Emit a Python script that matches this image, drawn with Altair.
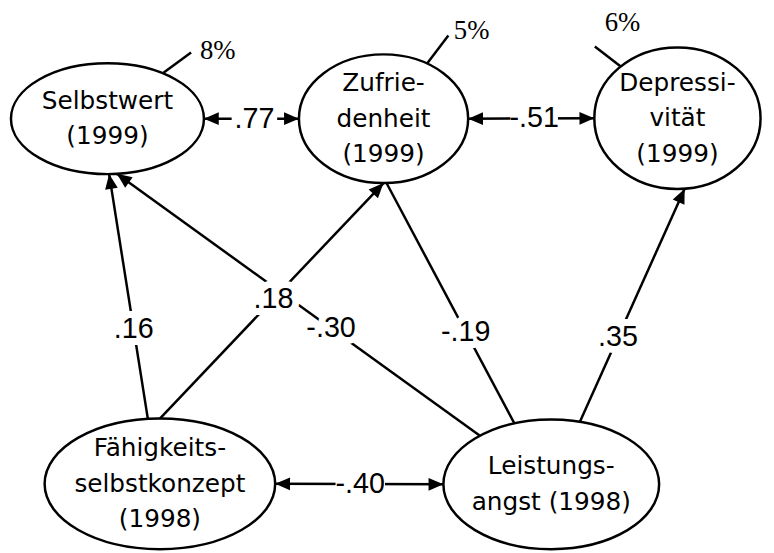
import altair as alt
import numpy as np
import pandas as pd

# ---------------- data ----------------
node_ids = ["SW", "ZF", "DP", "FS", "LA"]
node_labels = [
    ["Selbstwert", "(1999)"],
    ["Zufrie-", "denheit", "(1999)"],
    ["Depressi-", "vität", "(1999)"],
    ["Fähigkeits-", "selbstkonzept", "(1998)"],
    ["Leistungs-", "angst (1998)"],
]

explained_nodes = ["SW", "ZF", "DP"]
explained_text = ["8%", "5%", "6%"]

path_from = ["FS", "FS", "LA", "LA", "LA"]
path_to = ["SW", "ZF", "SW", "ZF", "DP"]
path_coef = [".16", ".18", "-.30", "-.19", ".35"]

corr_a = ["SW", "ZF", "FS"]
corr_b = ["ZF", "DP", "LA"]
corr_coef = [".77", "-.51", "-.40"]

# ---------------- layout (pixels) ----------------
node_cx = [108.5, 387.5, 684.5, 161.5, 557.0]
node_cy = [117.0, 117.0, 116.5, 486.0, 486.5]
node_rx = [97.5, 85.5, 84.0, 116.5, 109.0]
node_ry = [56.0, 65.0, 71.5, 66.0, 65.5]
LINE_H = 36

path_start_angle = [264, 270, 228.6, 250, 285.4]
path_end_angle = [89, 90, 84.4, 88, 85]
path_label_t = [0.367, 0.508, 0.41, 0.38, 0.364]
path_has_head = [True, True, True, False, True]

corr_label_shift = [3, 3, 1]
corr_box_half = [23, 24, 25]

pct_anchor_angle = [305, 301, 227]
pct_line_end = [(193, 50), (453, 33), (601, 44)]
pct_text_pos = [(220, 49), (476.5, 28), (629, 20)]

HEAD = "M 0 0 L 0.43 1 L -0.43 1 Z"
HEAD_SIZE = 900
BOX = "M -1 -0.5 L 1 -0.5 L 1 0.5 L -1 0.5 Z"


def anchor(node, ang):
    i = node_ids.index(node)
    a = np.deg2rad(ang)
    return node_cx[i] + node_rx[i] * np.cos(a), node_cy[i] + node_ry[i] * np.sin(a)


def head_angle(dx, dy):
    return float(np.degrees(np.arctan2(dx, -dy)) % 360)


def ellipse_path(rx, ry):
    k = ry / rx
    c = 0.5523
    ck = c * k
    return (f"M -1 0 C -1 {-ck} {-c} {-k} 0 {-k} C {c} {-k} 1 {-ck} 1 0 "
            f"C 1 {ck} {c} {k} 0 {k} C {-c} {k} -1 {ck} -1 0 Z")


rules, heads, diag_labels, horiz_labels = [], [], [], []

for f, t, coef, a0, a1, lt, hh in zip(path_from, path_to, path_coef, path_start_angle,
                                      path_end_angle, path_label_t, path_has_head):
    x0, y0 = anchor(f, a0)
    x1, y1 = anchor(t, a1)
    rules.append(dict(x=x0, y=y0, x2=x1, y2=y1))
    if hh:
        heads.append(dict(x=x1, y=y1, ang=head_angle(x1 - x0, y1 - y0)))
    diag_labels.append(dict(x=x0 + lt * (x1 - x0), y=y0 + lt * (y1 - y0), text=coef))

for a, b, coef, sh, bh in zip(corr_a, corr_b, corr_coef, corr_label_shift, corr_box_half):
    xa, ya = anchor(a, 0)
    xb, yb = anchor(b, 180)
    rules.append(dict(x=xa, y=ya, x2=xb, y2=yb))
    heads.append(dict(x=xa, y=ya, ang=head_angle(xa - xb, ya - yb)))
    heads.append(dict(x=xb, y=yb, ang=head_angle(xb - xa, yb - ya)))
    horiz_labels.append(dict(x=(xa + xb) / 2 + sh, y=(ya + yb) / 2, text=coef,
                             size=(2 * bh) ** 2))

pct_rules, pct_texts = [], []
for n, txt, ang, (ex, ey), (tx, ty) in zip(explained_nodes, explained_text, pct_anchor_angle,
                                            pct_line_end, pct_text_pos):
    sx, sy = anchor(n, ang)
    pct_rules.append(dict(x=sx, y=sy, x2=ex, y2=ey))
    pct_texts.append(dict(x=tx, y=ty, text=txt))

nodes = pd.DataFrame(dict(
    x=node_cx, y=node_cy,
    shape=[ellipse_path(rx, ry) for rx, ry in zip(node_rx, node_ry)],
    size=[(2 * rx) ** 2 for rx in node_rx],
))

text_rows = []
for cx, cy, lines in zip(node_cx, node_cy, node_labels):
    n = len(lines)
    for i, ln in enumerate(lines):
        text_rows.append(dict(x=cx, y=cy + (i - (n - 1) / 2) * LINE_H, text=ln))

xs = alt.Scale(domain=[8, 766], nice=False, zero=False)
ys = alt.Scale(domain=[8, 545], reverse=True, nice=False, zero=False)
X = alt.X("x:Q", scale=xs, axis=None)
Y = alt.Y("y:Q", scale=ys, axis=None)

all_rules = pd.DataFrame(rules + pct_rules)
rule_layer = alt.Chart(all_rules).mark_rule(color="black", strokeWidth=2.5).encode(
    x=X, y=Y, x2="x2:Q", y2="y2:Q")

diag_df = pd.DataFrame(diag_labels)
horiz_df = pd.DataFrame(horiz_labels)

coef_font = dict(font="Liberation Sans", fontSize=29, baseline="middle", align="center")
diag_halo = alt.Chart(diag_df).mark_text(color="white", stroke="white", strokeWidth=14,
                                         strokeJoin="round", **coef_font).encode(x=X, y=Y, text="text:N")
horiz_box = alt.Chart(horiz_df).mark_point(
    shape=BOX, filled=True, color="white", opacity=1, strokeWidth=0
).encode(x=X, y=Y, size=alt.Size("size:Q", scale=None, legend=None))
diag_text = alt.Chart(diag_df).mark_text(color="black", **coef_font).encode(x=X, y=Y, text="text:N")
horiz_text = alt.Chart(horiz_df).mark_text(color="black", **coef_font).encode(x=X, y=Y, text="text:N")

head_layer = alt.Chart(pd.DataFrame(heads)).mark_point(
    shape=HEAD, size=HEAD_SIZE, filled=True, color="black", opacity=1, strokeWidth=0
).encode(x=X, y=Y, angle=alt.Angle("ang:Q", scale=None))

node_layer = alt.Chart(nodes).mark_point(
    filled=True, fill="white", stroke="black", strokeWidth=2.5, opacity=1
).encode(x=X, y=Y, shape=alt.Shape("shape:N", scale=None, legend=None),
         size=alt.Size("size:Q", scale=None, legend=None))

node_text = alt.Chart(pd.DataFrame(text_rows)).mark_text(
    font="DejaVu Sans", fontSize=25, baseline="middle", align="center", color="black"
).encode(x=X, y=Y, text="text:N")

pct_layer = alt.Chart(pd.DataFrame(pct_texts)).mark_text(
    font="Liberation Serif", fontSize=27, baseline="middle", align="center", color="black"
).encode(x=X, y=Y, text="text:N")

chart = alt.layer(
    rule_layer, diag_halo, horiz_box, diag_text, horiz_text, head_layer,
    node_layer, node_text, pct_layer
).properties(
    width=758, height=537, autosize="none",
    padding={"left": 0, "top": 0, "right": 8, "bottom": 8},
    background="white",
).configure_view(stroke=None)

chart.save("out.html", embed_options={"renderer": "svg", "actions": False})
